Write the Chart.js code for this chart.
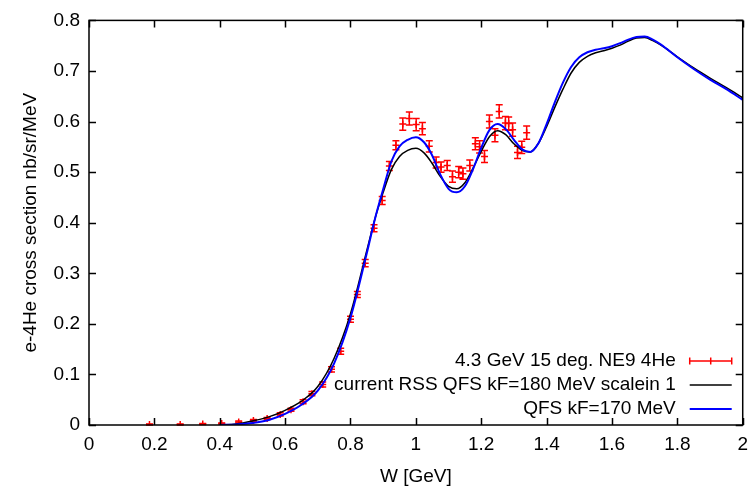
<!DOCTYPE html>
<html><head><meta charset="utf-8">
<script src="https://cdn.jsdelivr.net/npm/chart.js@4.4.1/dist/chart.umd.min.js"></script>
<style>html,body{margin:0;padding:0;background:#fff}#wrap{width:756px;height:494px}</style>
</head><body><div id="wrap"><canvas id="c" width="756" height="494"></canvas></div>
<script>
// ---- data ----
const dataW = [0.185,0.279,0.348,0.406,0.458,0.503,0.545,0.585,0.618,0.655,0.682,0.715,0.742,0.770,0.800,0.821,0.845,0.872,0.897,0.919,0.939,0.960,0.980,1.001,1.020,1.041,1.062,1.077,1.096,1.112,1.131,1.144,1.165,1.182,1.195,1.210,1.225,1.242,1.255,1.274,1.284,1.296,1.311,1.324,1.339];
const dataY = [0.001,0.001,0.002,0.003,0.006,0.009,0.013,0.021,0.030,0.046,0.062,0.080,0.110,0.146,0.209,0.258,0.320,0.389,0.444,0.512,0.553,0.595,0.606,0.594,0.586,0.551,0.519,0.510,0.513,0.491,0.500,0.497,0.513,0.556,0.550,0.531,0.600,0.573,0.620,0.597,0.596,0.584,0.539,0.549,0.578];
const dataErr = [0.001,0.001,0.001,0.001,0.002,0.002,0.002,0.003,0.003,0.004,0.004,0.005,0.005,0.006,0.006,0.006,0.007,0.007,0.008,0.009,0.009,0.012,0.013,0.012,0.012,0.011,0.011,0.010,0.010,0.011,0.011,0.011,0.011,0.012,0.012,0.012,0.013,0.013,0.013,0.013,0.013,0.013,0.012,0.012,0.013];

const curveW = [0.40,0.45,0.50,0.55,0.60,0.65,0.70,0.75,0.80,0.85,0.875,0.90,0.925,0.95,0.975,1.00,1.025,1.05,1.075,1.10,1.125,1.15,1.175,1.20,1.225,1.25,1.275,1.30,1.325,1.35,1.375,1.40,1.425,1.45,1.475,1.50,1.525,1.55,1.575,1.60,1.625,1.65,1.675,1.70,1.725,1.75,1.80,1.85,1.90,1.95,2.00];
const curveBlack = [0.000,0.002,0.008,0.016,0.029,0.047,0.076,0.132,0.220,0.345,0.408,0.460,0.505,0.531,0.543,0.547,0.538,0.517,0.491,0.472,0.467,0.479,0.508,0.541,0.570,0.582,0.574,0.556,0.543,0.540,0.557,0.590,0.628,0.664,0.696,0.717,0.729,0.736,0.740,0.745,0.751,0.759,0.765,0.766,0.760,0.751,0.728,0.706,0.686,0.667,0.647];
const curveBlue  = [0.000,0.001,0.004,0.010,0.022,0.040,0.068,0.122,0.212,0.340,0.408,0.466,0.521,0.551,0.564,0.569,0.559,0.533,0.495,0.467,0.460,0.472,0.506,0.548,0.583,0.595,0.585,0.564,0.545,0.540,0.557,0.595,0.638,0.677,0.708,0.727,0.737,0.742,0.745,0.749,0.755,0.762,0.767,0.768,0.762,0.752,0.727,0.704,0.683,0.664,0.643];

const xTickLabels = ['0','0.2','0.4','0.6','0.8','1','1.2','1.4','1.6','1.8','2'];
const yTickLabels = ['0','0.1','0.2','0.3','0.4','0.5','0.6','0.7','0.8'];
const seriesLabels = ['4.3 GeV 15 deg. NE9 4He','current RSS QFS kF=180 MeV scalein 1','QFS kF=170 MeV'];
const xTitle = 'W [GeV]';
const yTitle = 'e-4He cross section nb/sr/MeV';

// ---- build ----
const FONT = '"Liberation Sans", Arial, sans-serif';
Chart.defaults.font.family = FONT;
Chart.defaults.font.size = 19;
Chart.defaults.color = '#000';

const pts = dataW.map((w,i)=>({x:w,y:dataY[i]}));
const blackPts = curveW.map((w,i)=>({x:w,y:curveBlack[i]}));
const bluePts = curveW.map((w,i)=>({x:w,y:curveBlue[i]}));

const errorBars = {
  id:'errorBars',
  beforeDatasetsDraw(chart){
    const {ctx, scales:{x,y}} = chart;
    ctx.save();
    ctx.strokeStyle = '#ff0000';
    ctx.lineWidth = 1.5;
    ctx.beginPath();
    dataW.forEach((w,i)=>{
      const px = x.getPixelForValue(w);
      const y1 = y.getPixelForValue(dataY[i]-dataErr[i]);
      const y2 = y.getPixelForValue(dataY[i]+dataErr[i]);
      ctx.moveTo(px,y1); ctx.lineTo(px,y2);
      ctx.moveTo(px-3.5,y1); ctx.lineTo(px+3.5,y1);
      ctx.moveTo(px-3.5,y2); ctx.lineTo(px+3.5,y2);
    });
    ctx.stroke();
    ctx.restore();
  }
};

const frame = {
  id:'frame',
  afterDraw(chart){
    const {ctx, chartArea:a, scales:{x,y}} = chart;
    ctx.save();
    ctx.strokeStyle = '#000';
    ctx.lineWidth = 1.5;
    ctx.beginPath();
    const TL = 7;
    x.ticks.forEach(t=>{
      const px = Math.round(x.getPixelForValue(t.value))+0.5;
      ctx.moveTo(px,a.bottom); ctx.lineTo(px,a.bottom-TL);
      ctx.moveTo(px,a.top); ctx.lineTo(px,a.top+TL);
    });
    y.ticks.forEach(t=>{
      const py = Math.round(y.getPixelForValue(t.value))+0.5;
      ctx.moveTo(a.left,py); ctx.lineTo(a.left+TL,py);
      ctx.moveTo(a.right,py); ctx.lineTo(a.right-TL,py);
    });
    ctx.stroke();
    ctx.strokeRect(a.left, a.top, a.right-a.left, a.bottom-a.top);

    // legend (gnuplot style: text right, sample to the right)
    ctx.font = '19px ' + FONT;
    ctx.textAlign = 'right';
    ctx.textBaseline = 'middle';
    ctx.fillStyle = '#000';
    const textRight = a.right - 67;
    const s1 = a.right - 53, s2 = a.right - 11;
    const rows = [a.bottom-64, a.bottom-40, a.bottom-16];
    chart.data.datasets.forEach((ds,i)=>{
      const ry = rows[i];
      ctx.fillText(ds.label, textRight, ry);
      ctx.beginPath();
      ctx.strokeStyle = ds.borderColor;
      ctx.lineWidth = ds.borderWidth;
      ctx.moveTo(s1, ry); ctx.lineTo(s2, ry);
      if (i===0){
        ctx.moveTo(s1, ry-3.5); ctx.lineTo(s1, ry+3.5);
        ctx.moveTo(s2, ry-3.5); ctx.lineTo(s2, ry+3.5);
        const m=(s1+s2)/2;
        ctx.moveTo(m, ry-3.5); ctx.lineTo(m, ry+3.5);
      }
      ctx.stroke();
    });
    ctx.restore();
  }
};

new Chart(document.getElementById('c'), {
  type:'scatter',
  data:{datasets:[
    {label:seriesLabels[0], data:pts, showLine:false, pointStyle:'cross', pointRadius:3.5, borderColor:'#ff0000', backgroundColor:'#ff0000', borderWidth:1.5, order:3},
    {label:seriesLabels[1], data:blackPts, showLine:true, pointRadius:0, borderColor:'#000000', borderWidth:1.5, cubicInterpolationMode:'monotone', order:2},
    {label:seriesLabels[2], data:bluePts, showLine:true, pointRadius:0, borderColor:'#0000ff', borderWidth:2, cubicInterpolationMode:'monotone', order:1}
  ]},
  options:{
    responsive:false, animation:false, devicePixelRatio:1,
    layout:{padding:{left:0,right:7,top:12,bottom:0}},
    plugins:{legend:{display:false}, tooltip:{enabled:false}},
    scales:{
      x:{type:'linear', min:0, max:2, border:{display:false},
        grid:{display:false, drawTicks:false},
        ticks:{stepSize:0.2, autoSkip:false, maxRotation:0, padding:8, callback:(v,i)=>xTickLabels[i]},
        title:{display:true, text:xTitle, padding:{top:0,bottom:6}},
        afterFit(s){ s.height = 69; }
      },
      y:{type:'linear', min:0, max:0.8, border:{display:false},
        grid:{display:false, drawTicks:false},
        ticks:{stepSize:0.1, autoSkip:false, padding:9, callback:(v,i)=>yTickLabels[i]},
        title:{display:true, text:yTitle, padding:{top:19,bottom:0}},
        afterFit(s){ s.width = 89; }
      }
    }
  },
  plugins:[errorBars, frame]
});
</script></body></html>
